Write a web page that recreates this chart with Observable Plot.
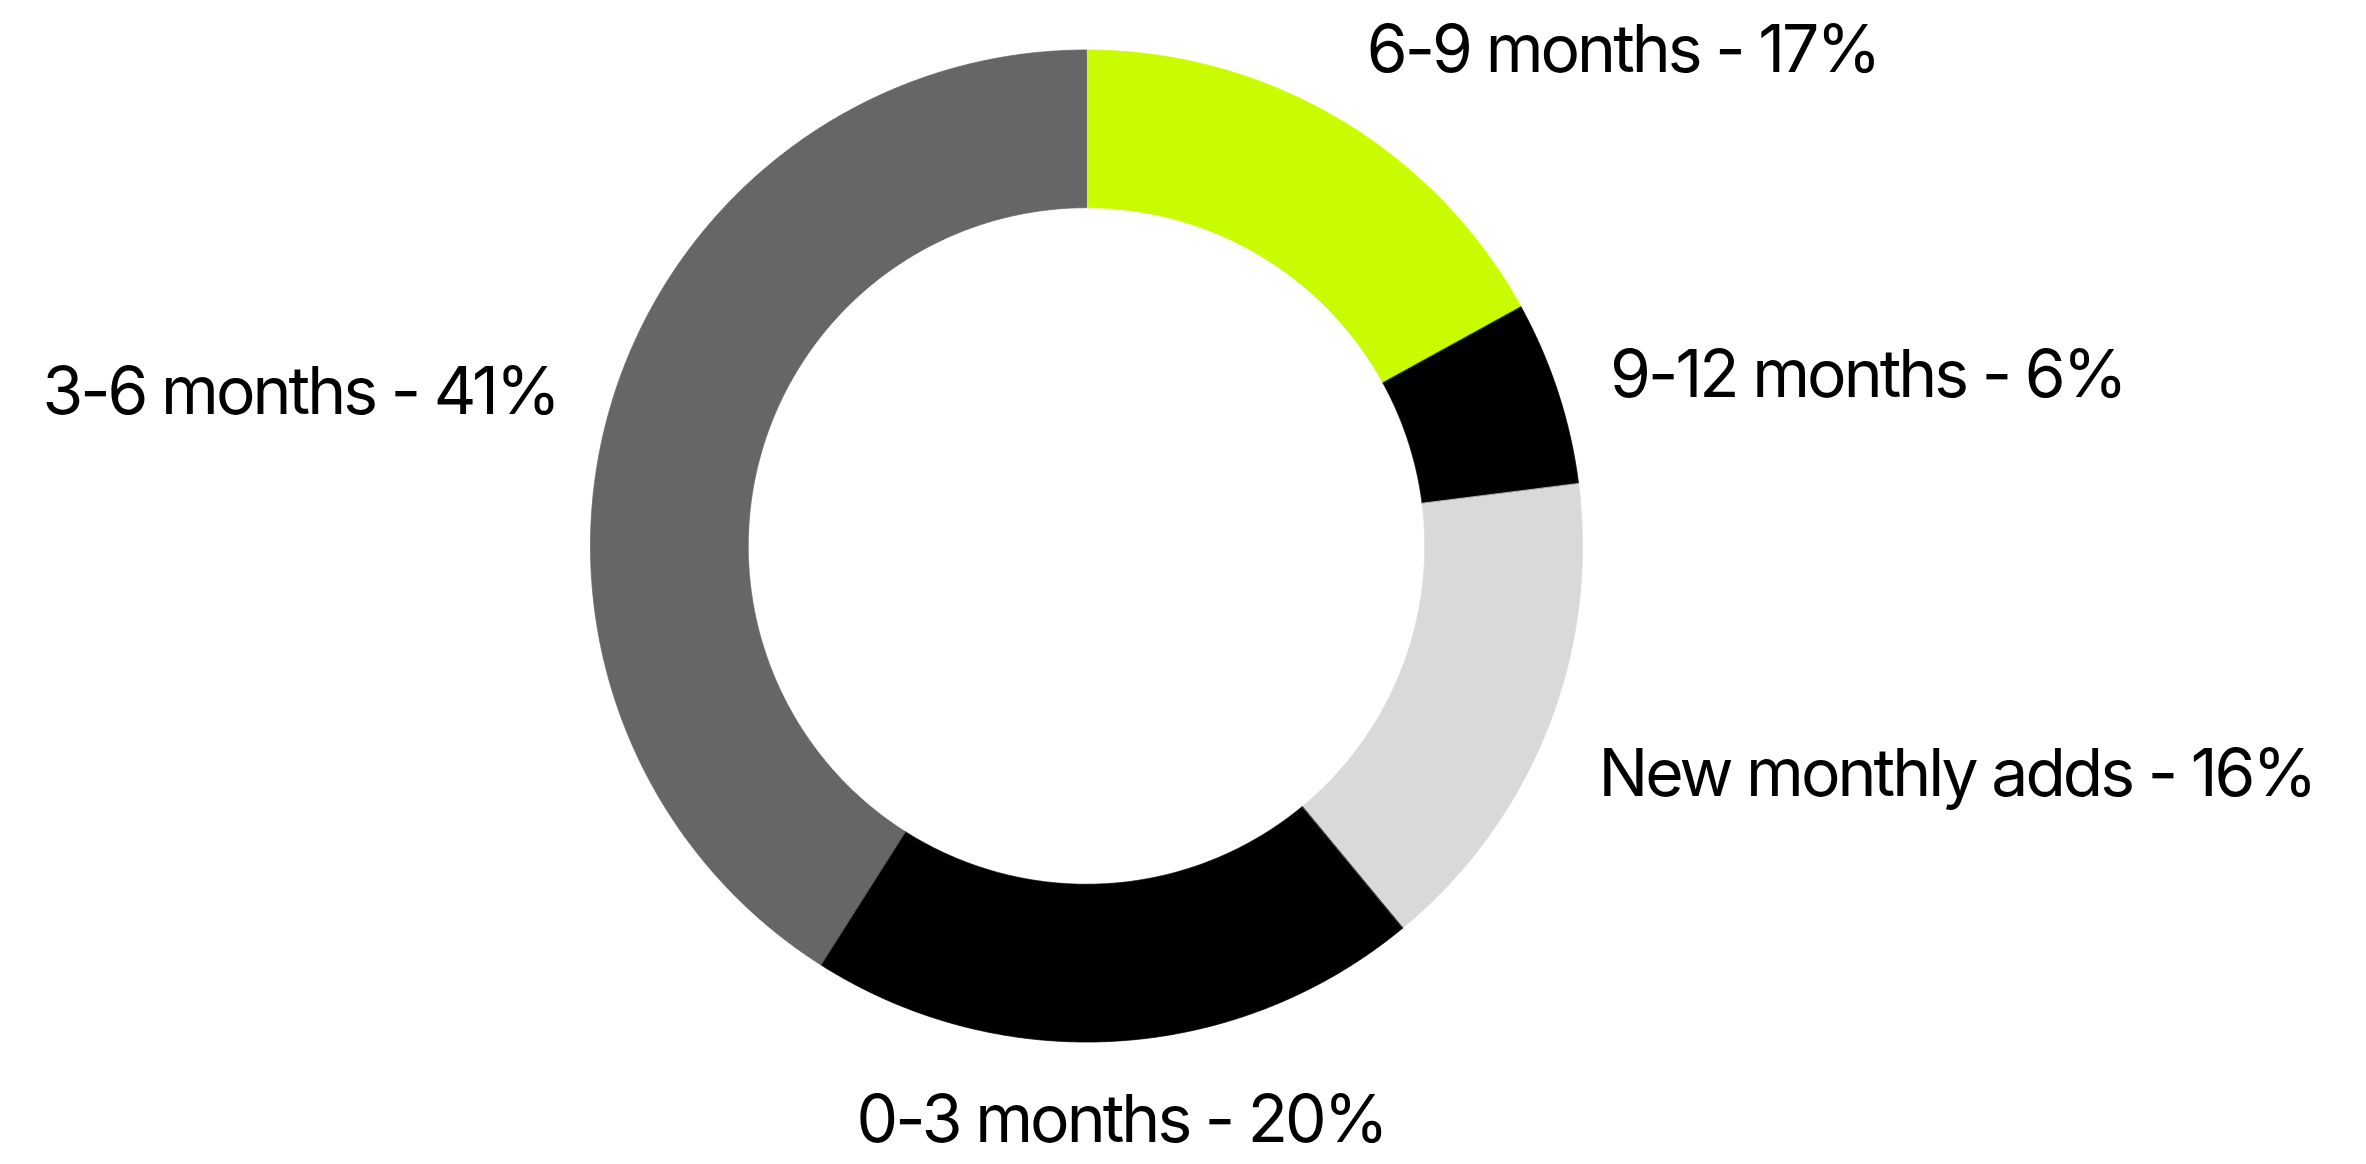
<!DOCTYPE html>
<html>
<head>
<meta charset="utf-8">
<script src="https://cdn.jsdelivr.net/npm/d3@7"></script>
<script src="https://cdn.jsdelivr.net/npm/@observablehq/plot@0.6"></script>
<style>
  html, body { margin: 0; padding: 0; background: #ffffff; overflow: hidden; }
  #chart svg text { letter-spacing: -0.045em; }
</style>
</head>
<body>
<div id="chart"></div>
<script>
// ---- data ----
const categories = ["6-9 months", "9-12 months", "New monthly adds", "0-3 months", "3-6 months"];
const shares = [17, 6, 16, 20, 41];
const colors = ["#c9fc00", "#000000", "#d9d9d9", "#000000", "#666666"];

// ---- layout ----
const W = 2366, H = 1164;
const cx = 1086, cy = 545.5, R = 496;   // ring centre and outer radius in px
const innerRatio = 0.682;               // hole radius / outer radius
const labelRadius = 1.11;               // label anchor radius / outer radius

const rows = categories.map((category, i) => ({category, share: shares[i]}));
const arcs = d3.pie().sort(null).value(d => d.share)(rows);

// ring polygons (unit-radius coordinates, y up), one closed outline per slice
const ring = [];
for (const a of arcs) {
  const n = Math.max(12, Math.ceil((a.endAngle - a.startAngle) / 0.003));
  for (let j = 0; j <= n; j++) {
    const t = a.startAngle + (a.endAngle - a.startAngle) * j / n;
    ring.push({category: a.data.category, x: Math.sin(t), y: Math.cos(t)});
  }
  for (let j = n; j >= 0; j--) {
    const t = a.startAngle + (a.endAngle - a.startAngle) * j / n;
    ring.push({category: a.data.category, x: innerRatio * Math.sin(t), y: innerRatio * Math.cos(t)});
  }
}

// labels at the middle angle of each slice, anchored away from the ring
const labels = arcs.map(a => {
  const m = (a.startAngle + a.endAngle) / 2;
  const s = Math.sin(m), c = Math.cos(m);
  return {
    text: `${a.data.category} - ${a.data.share}%`,
    x: labelRadius * s,
    y: labelRadius * c,
    textAnchor: s > 0.25 ? "start" : s < -0.25 ? "end" : "middle",
    lineAnchor: c > 0.6 ? "bottom" : c < -0.3 ? "top" : "middle"
  };
});

const textMarks = [];
for (const ta of ["start", "middle", "end"]) {
  for (const la of ["top", "middle", "bottom"]) {
    const sub = labels.filter(d => d.textAnchor === ta && d.lineAnchor === la);
    if (sub.length) {
      textMarks.push(Plot.text(sub, {
        x: "x", y: "y", text: "text",
        textAnchor: ta, lineAnchor: la,
        fontSize: 66, fill: "#000000"
      }));
    }
  }
}

const chart = Plot.plot({
  width: W,
  height: H,
  margin: 0,
  style: {fontFamily: "Inter, 'Noto Sans', sans-serif", background: "#ffffff", overflow: "visible"},
  x: {domain: [-cx / R, (W - cx) / R], axis: null},
  y: {domain: [-(H - cy) / R, cy / R], axis: null},
  color: {domain: categories, range: colors},
  marks: [
    Plot.line(ring, {
      x: "x", y: "y", z: "category",
      fill: "category", stroke: "category", strokeWidth: 0.8,
      curve: "linear-closed"
    }),
    ...textMarks
  ]
});

document.getElementById("chart").appendChild(chart);
</script>
</body>
</html>
